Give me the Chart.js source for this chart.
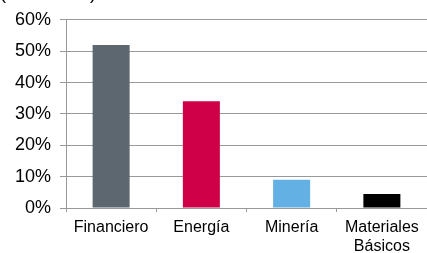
<!DOCTYPE html>
<html>
<head>
<meta charset="utf-8">
<script src="https://cdn.jsdelivr.net/npm/chart.js@4/dist/chart.umd.min.js"></script>
<style>
  html, body { margin: 0; padding: 0; background: #fff; }
  #wrap { width: 427px; height: 253px; position: relative; }
</style>
</head>
<body>
<div id="wrap"><canvas id="c"></canvas></div>
<script>
// data
const categories = ['Financiero', 'Energía', 'Minería', ['Materiales', 'Básicos']];
const shares = [52, 34, 9, 4.5];
const barColors = ['#5c6770', '#cf0047', '#62b0e4', '#000000'];
const yTicks = [0, 10, 20, 30, 40, 50, 60];
const unitLabel = '(% del total)';

// the unit label sits mostly above the top edge, like in the picture
const topLabel = {
  id: 'topLabel',
  afterDraw(chart) {
    const ctx = chart.ctx;
    ctx.save();
    ctx.font = '18px "Liberation Sans", Arial, sans-serif';
    ctx.fillStyle = '#000';
    ctx.textBaseline = 'alphabetic';
    ctx.fillText(unitLabel, 0, -1);
    ctx.restore();
  }
};

new Chart(document.getElementById('c').getContext('2d'), {
  type: 'bar',
  data: {
    labels: categories,
    datasets: [{
      data: shares,
      backgroundColor: barColors,
      borderWidth: 0,
      categoryPercentage: 1,
      barPercentage: 0.41
    }]
  },
  options: {
    responsive: true,
    maintainAspectRatio: false,
    animation: false,
    layout: { padding: { top: 16.5, right: 0, left: 0, bottom: 0 } },
    plugins: { legend: { display: false }, tooltip: { enabled: false } },
    scales: {
      x: {
        afterFit: (s) => { s.height = 45; },
        border: { color: '#999', width: 1 },
        grid: {
          offset: true,
          drawOnChartArea: false,
          drawTicks: true,
          tickLength: 4,
          color: '#999'
        },
        ticks: {
          color: '#000',
          padding: 6,
          font: { family: '"Liberation Sans", Arial, sans-serif', size: 16, lineHeight: 1.2 }
        }
      },
      y: {
        min: 0,
        max: 60,
        afterFit: (s) => { s.width = 66; },
        afterBuildTicks: (s) => { s.ticks = yTicks.map(v => ({ value: v })); },
        border: { color: '#999', width: 1 },
        grid: {
          color: '#999',
          lineWidth: 1,
          borderDash: [1, 1],
          tickLength: 6,
          tickColor: '#999',
          tickBorderDash: []
        },
        ticks: {
          color: '#000',
          padding: 9,
          callback: (v) => v + '%',
          font: { family: '"Liberation Sans", Arial, sans-serif', size: 18 }
        }
      }
    }
  },
  plugins: [topLabel]
});
</script>
</body>
</html>
